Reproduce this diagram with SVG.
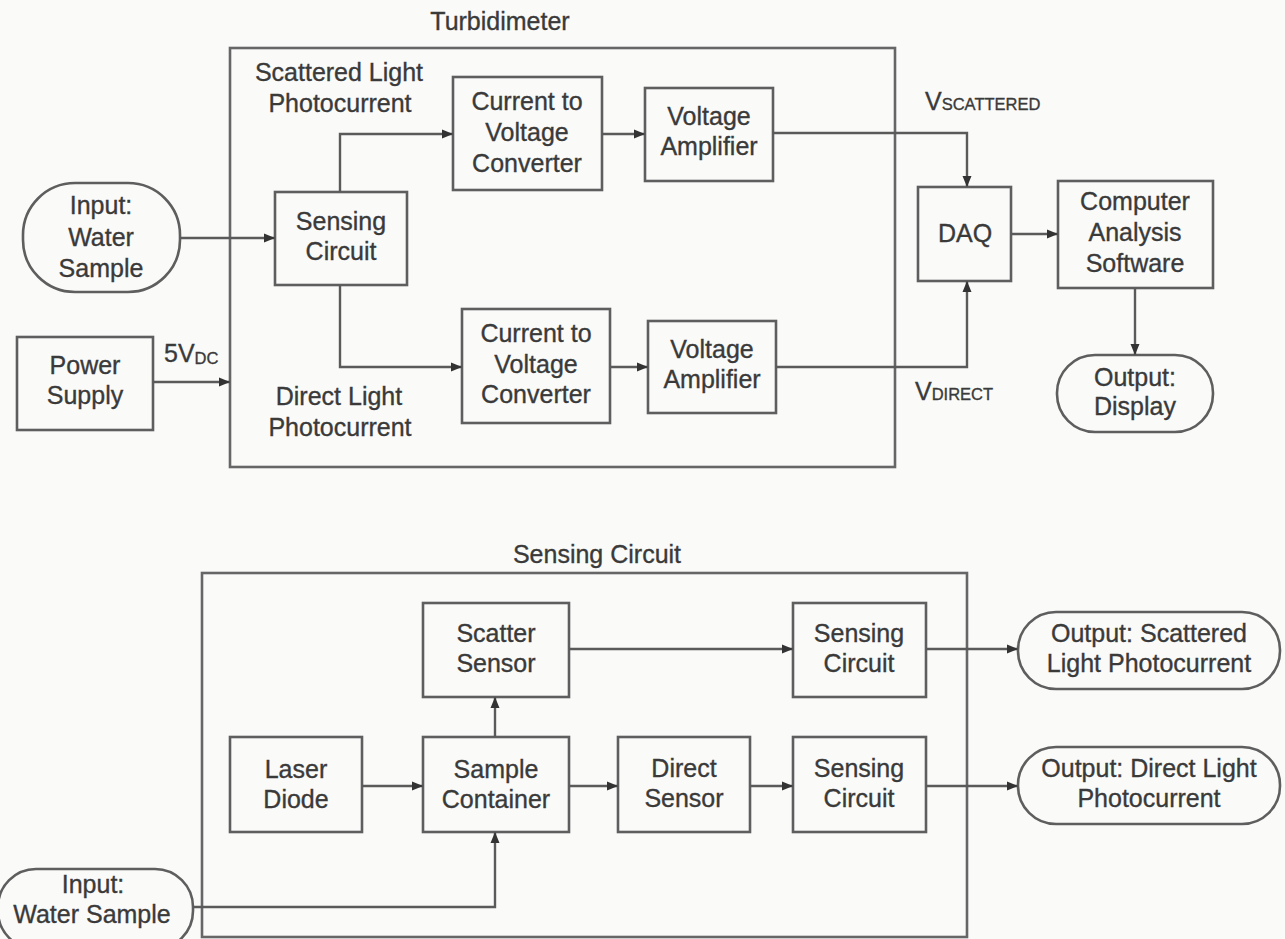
<svg xmlns="http://www.w3.org/2000/svg" width="1285" height="939" viewBox="0 0 1285 939">
<defs>
<marker id="arr" markerUnits="userSpaceOnUse" markerWidth="12" markerHeight="10" refX="11" refY="5" orient="auto">
<path d="M0,0.5 L11,5 L0,9.5 Z" fill="#333"/>
</marker>
<style>
.box{fill:none;stroke:#5e5e5e;stroke-width:2.6}
.frame{fill:none;stroke:#666;stroke-width:2.6}
.ln{fill:none;stroke:#5a5a5a;stroke-width:2.4}
.arrow{marker-end:url(#arr)}
text{font-family:"Liberation Sans",Arial,sans-serif;font-size:25px;fill:#3a3a3a;stroke:#3a3a3a;stroke-width:0.35;text-anchor:middle}
.sub{font-size:16.5px}
.st{text-anchor:start}
</style>
</defs>
<rect width="1285" height="939" fill="#fafaf9"/>

<g id="turbidimeter">
<rect class="frame" x="230" y="48" width="665" height="419"/>
<text x="500" y="30">Turbidimeter</text>
<text x="339" y="81">Scattered Light</text>
<text x="340" y="112">Photocurrent</text>
<text x="339" y="405">Direct Light</text>
<text x="340" y="436">Photocurrent</text>
</g>

<g id="input-water-top">
<rect class="box" x="23" y="183" width="157" height="109" rx="52" ry="52"/>
<text x="101" y="214">Input:</text>
<text x="101" y="246">Water</text>
<text x="101" y="277">Sample</text>
</g>

<g id="power-supply">
<rect class="box" x="17" y="337" width="136" height="93"/>
<text x="85" y="374">Power</text>
<text x="85" y="404">Supply</text>
</g>

<g id="sensing-circuit-top">
<rect class="box" x="275" y="192" width="132" height="93"/>
<text x="341" y="230">Sensing</text>
<text x="341" y="260">Circuit</text>
</g>

<g id="ctov-upper">
<rect class="box" x="453" y="77" width="149" height="113"/>
<text x="527" y="110">Current to</text>
<text x="527" y="141">Voltage</text>
<text x="527" y="172">Converter</text>
</g>

<g id="amp-upper">
<rect class="box" x="645" y="88" width="128" height="93"/>
<text x="709" y="125">Voltage</text>
<text x="709" y="155">Amplifier</text>
</g>

<g id="ctov-lower">
<rect class="box" x="462" y="309" width="148" height="114"/>
<text x="536" y="342">Current to</text>
<text x="536" y="373">Voltage</text>
<text x="536" y="403">Converter</text>
</g>

<g id="amp-lower">
<rect class="box" x="648" y="321" width="128" height="92"/>
<text x="712" y="358">Voltage</text>
<text x="712" y="388">Amplifier</text>
</g>

<g id="daq">
<rect class="box" x="918" y="187" width="93" height="94"/>
<text x="965" y="242">DAQ</text>
</g>

<g id="computer">
<rect class="box" x="1058" y="181" width="155" height="107"/>
<text x="1135" y="210">Computer</text>
<text x="1135" y="241">Analysis</text>
<text x="1135" y="272">Software</text>
</g>

<g id="output-display">
<rect class="box" x="1057" y="355" width="156" height="77" rx="38" ry="38"/>
<text x="1135" y="386">Output:</text>
<text x="1135" y="415">Display</text>
</g>

<g id="labels-top">
<text class="st" x="164" y="362">5V<tspan class="sub" dy="2">DC</tspan></text>
<text class="st" x="925" y="110">V<tspan class="sub">SCATTERED</tspan></text>
<text class="st" x="915" y="400">V<tspan class="sub">DIRECT</tspan></text>
</g>

<g id="sensing-circuit-detail">
<rect class="frame" x="202" y="573" width="765" height="364"/>
<text x="597" y="563">Sensing Circuit</text>
</g>

<g id="scatter-sensor">
<rect class="box" x="423" y="603" width="146" height="94"/>
<text x="496" y="642">Scatter</text>
<text x="496" y="672">Sensor</text>
</g>

<g id="sensing-circuit-a">
<rect class="box" x="793" y="603" width="133" height="94"/>
<text x="859" y="642">Sensing</text>
<text x="859" y="672">Circuit</text>
</g>

<g id="output-scattered">
<rect class="box" x="1018" y="612" width="262" height="77" rx="38" ry="38"/>
<text x="1149" y="642">Output: Scattered</text>
<text x="1149" y="672">Light Photocurrent</text>
</g>

<g id="laser-diode">
<rect class="box" x="230" y="737" width="132" height="95"/>
<text x="296" y="778">Laser</text>
<text x="296" y="808">Diode</text>
</g>

<g id="sample-container">
<rect class="box" x="423" y="737" width="146" height="95"/>
<text x="496" y="778">Sample</text>
<text x="496" y="808">Container</text>
</g>

<g id="direct-sensor">
<rect class="box" x="618" y="737" width="132" height="95"/>
<text x="684" y="777">Direct</text>
<text x="684" y="807">Sensor</text>
</g>

<g id="sensing-circuit-b">
<rect class="box" x="793" y="737" width="133" height="95"/>
<text x="859" y="777">Sensing</text>
<text x="859" y="807">Circuit</text>
</g>

<g id="output-direct">
<rect class="box" x="1018" y="747" width="262" height="77" rx="38" ry="38"/>
<text x="1149" y="777">Output: Direct Light</text>
<text x="1149" y="807">Photocurrent</text>
</g>

<g id="input-water-bottom">
<rect class="box" x="-2" y="869" width="195" height="80" rx="38" ry="38"/>
<text x="93" y="893">Input:</text>
<text x="92" y="923">Water Sample</text>
</g>

<g id="connectors">
<path class="ln arrow" d="M180,238 H275"/>
<path class="ln arrow" d="M153,382 H230"/>
<path class="ln arrow" d="M340,192 V134 H453"/>
<path class="ln arrow" d="M340,285 V367 H462"/>
<path class="ln arrow" d="M602,134 H645"/>
<path class="ln arrow" d="M610,367 H648"/>
<path class="ln arrow" d="M773,133 H967 V187"/>
<path class="ln arrow" d="M776,367 H967 V281"/>
<path class="ln arrow" d="M1011,234 H1058"/>
<path class="ln arrow" d="M1135,288 V355"/>
<path class="ln arrow" d="M569,649 H793"/>
<path class="ln arrow" d="M926,649 H1018"/>
<path class="ln arrow" d="M362,786 H423"/>
<path class="ln arrow" d="M569,786 H618"/>
<path class="ln arrow" d="M750,786 H793"/>
<path class="ln arrow" d="M926,786 H1018"/>
<path class="ln arrow" d="M495,737 V697"/>
<path class="ln arrow" d="M193,907 H495 V832"/>
</g>
</svg>
